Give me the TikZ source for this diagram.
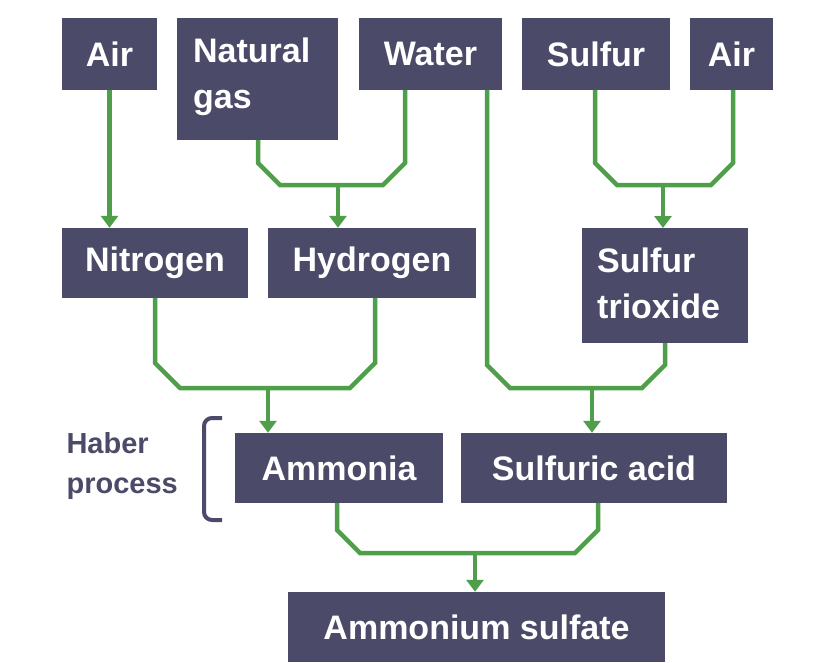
\documentclass[tikz,border=0pt]{standalone}
\usepackage{fontspec}
\setmainfont{Liberation Sans}
\usetikzlibrary{arrows.meta}
\definecolor{boxc}{HTML}{4B4A68}
\definecolor{linec}{HTML}{4E9E4A}
\begin{document}
\begin{tikzpicture}[x=1pt,y=-1pt,
  bx/.style={fill=boxc,text=white,font=\fontsize{34}{46}\selectfont\bfseries,inner sep=0pt},
  ln/.style={draw=linec,line width=4.5pt,line join=miter},
  ar/.style={ln,-{Triangle[length=12pt,width=17pt]}}]
\useasboundingbox (0,0) rectangle (828,662);
\fill[white] (0,0) rectangle (828,662);
% boxes
\node[bx,minimum width=95,minimum height=72] (air1) at (109.5,54) {Air};
\path[fill=boxc] (177,18) rectangle (338,140);
\node[bx,anchor=north west,align=left,text width=140] (gas) at (193,38) {Natural\\gas};
\node[bx,minimum width=143,minimum height=72] (water) at (430.5,54) {Water};
\node[bx,minimum width=148,minimum height=72] (sulfur) at (596,54) {Sulfur};
\node[bx,minimum width=83,minimum height=72] (air2) at (731.5,54) {Air};
\node[bx,minimum width=186,minimum height=70] (n2) at (155,263) {Nitrogen};
\node[bx,minimum width=208,minimum height=70] (h2) at (372,263) {Hydrogen};
\path[fill=boxc] (582,228) rectangle (748,343);
\node[bx,anchor=north west,align=left,text width=150] (so3) at (597,248) {Sulfur\\trioxide};
\node[bx,minimum width=208,minimum height=70] (nh3) at (339,468) {Ammonia};
\node[bx,minimum width=266,minimum height=70] (h2so4) at (594,468) {Sulfuric acid};
\node[bx,minimum width=377,minimum height=70] (as) at (476.5,627) {Ammonium sulfate};
% label + bracket
\node[anchor=west,align=left,text=boxc,font=\fontsize{29}{40}\selectfont\bfseries] (haber) at (63,466) {Haber\\process};
\draw[boxc,line width=4pt,rounded corners=8pt] (222,418) -- (204,418) -- (204,520) -- (222,520);
% connectors
\coordinate (m1) at (338,185);
\coordinate (m2) at (663,185);
\coordinate (m3) at (268,388);
\coordinate (m4) at (592,388);
\coordinate (m5) at (475,553);
\draw[ar] (air1.south) -- (n2.north -| air1.south);
\draw[ln] (258,140) -- (258,163) -- (280,185) -- (383,185) -- (405,163) -- (water.south -| 405,0);
\draw[ar] (m1) -- (h2.north -| m1);
\draw[ln] (sulfur.south -| 595,0) -- (595,163) -- (617,185) -- (711,185) -- (733,163) -- (air2.south -| 733,0);
\draw[ar] (m2) -- (663,228);
\draw[ln] (n2.south -| 155,0) -- (155,363) -- (180,388) -- (350,388) -- (375,363) -- (h2.south -| 375,0);
\draw[ar] (m3) -- (nh3.north -| m3);
\draw[ln] (water.south -| 487,0) -- (487,365) -- (510,388) -- (642,388) -- (665,365) -- (665,343);
\draw[ar] (m4) -- (h2so4.north -| m4);
\draw[ln] (nh3.south -| 337,0) -- (337,530) -- (360,553) -- (575,553) -- (598,530) -- (h2so4.south -| 598,0);
\draw[ar] (m5) -- (as.north -| m5);
\end{tikzpicture}
\end{document}
